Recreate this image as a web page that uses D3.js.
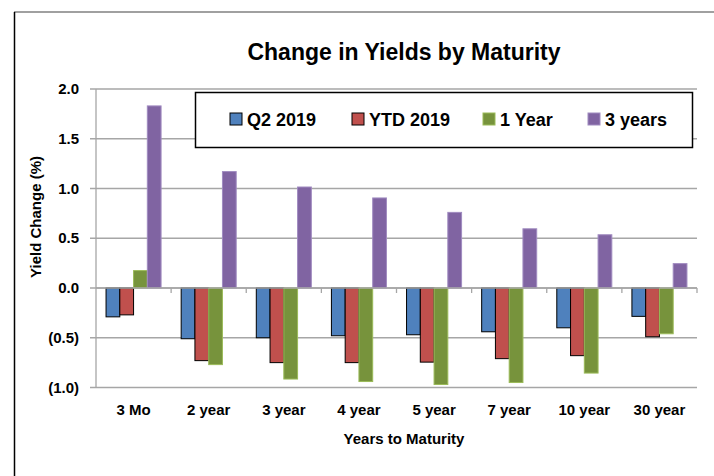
<!DOCTYPE html>
<html><head><meta charset="utf-8">
<script src="https://cdn.jsdelivr.net/npm/d3@7"></script>
<style>body{margin:0;background:#fff}svg{display:block}text{font-family:"Liberation Sans",Arial,sans-serif;font-weight:bold;fill:#000}</style>
</head><body><svg id="c" width="714" height="476"></svg>
<script>
const categories = ["3 Mo","2 year","3 year","4 year","5 year","7 year","10 year","30 year"];
const seriesNames = ["Q2 2019","YTD 2019","1 Year","3 years"];
const q2_2019  = [-0.29,-0.51,-0.50,-0.48,-0.47,-0.44,-0.40,-0.285];
const ytd_2019 = [-0.27,-0.73,-0.75,-0.75,-0.745,-0.71,-0.68,-0.49];
const oneYear  = [0.175,-0.77,-0.915,-0.94,-0.97,-0.95,-0.855,-0.46];
const threeYears = [1.83,1.17,1.015,0.905,0.76,0.595,0.535,0.245];
const yTicks = [-1.0,-0.5,0.0,0.5,1.0,1.5,2.0];
const fills = ["#4F81BD","#C0504D","#77933C","#8064A2"];
const strokes = ["#000","#000","#9BBB59","#A08BC0"];
const seriesData = [q2_2019, ytd_2019, oneYear, threeYears];

const svg = d3.select("#c");
const pL = 96, pR = 697, pT = 89, pB = 387.5;

// outer frame
svg.append("line").attr("x1",14).attr("x2",714).attr("y1",12).attr("y2",12).attr("stroke","#808080").attr("stroke-width",1.5);
svg.append("line").attr("x1",14.5).attr("x2",14.5).attr("y1",12).attr("y2",476).attr("stroke","#000").attr("stroke-width",1.5);

const x = d3.scaleBand().domain(categories).range([pL,pR]).paddingInner(0).paddingOuter(0);
const xs = d3.scaleBand().domain(seriesNames).range([0,x.bandwidth()]).paddingInner(0).paddingOuter(0.73);
const y = d3.scaleLinear().domain([-1,2]).range([pB,pT]);
const fmt = v => v < 0 ? "(" + d3.format(".1f")(-v) + ")" : d3.format(".1f")(v);

// gridlines
svg.append("g").selectAll("line").data(yTicks).join("line")
  .attr("x1",pL-6).attr("x2",pR).attr("y1",d=>y(d)).attr("y2",d=>y(d))
  .attr("stroke","#A6A6A6").attr("stroke-width",1.3);
svg.append("line").attr("x1",pL).attr("x2",pL).attr("y1",pT).attr("y2",pB).attr("stroke","#A6A6A6").attr("stroke-width",1.3);
svg.append("g").selectAll("text").data(yTicks).join("text")
  .attr("x",79).attr("y",d=>y(d)+5).attr("text-anchor","end").attr("font-size",15).text(fmt);

// bars
const flat = [];
seriesData.forEach((arr,si)=>arr.forEach((v,ci)=>flat.push({si,ci,v})));
svg.append("g").selectAll("rect").data(flat).join("rect")
  .attr("x",d=>x(categories[d.ci])+xs(seriesNames[d.si]))
  .attr("width",xs.bandwidth())
  .attr("y",d=>Math.min(y(d.v),y(0)))
  .attr("height",d=>Math.abs(y(d.v)-y(0)))
  .attr("fill",d=>fills[d.si]).attr("stroke",d=>strokes[d.si]).attr("stroke-width",1);

// x axis line and ticks
svg.append("line").attr("x1",pL).attr("x2",pR).attr("y1",y(0)).attr("y2",y(0)).attr("stroke","#A6A6A6").attr("stroke-width",1.3);
const bounds = categories.map(c=>x(c)).concat([pR]);
svg.append("g").selectAll("line").data(bounds.slice(1)).join("line")
  .attr("x1",d=>d).attr("x2",d=>d).attr("y1",y(0)).attr("y2",y(0)+5).attr("stroke","#A6A6A6").attr("stroke-width",1.3);
svg.append("g").selectAll("text").data(categories).join("text")
  .attr("x",d=>x(d)+x.bandwidth()/2).attr("y",415).attr("text-anchor","middle").attr("font-size",15).text(d=>d);

// axis titles
svg.append("text").attr("x",404).attr("y",444).attr("text-anchor","middle").attr("font-size",15).text("Years to Maturity");
svg.append("text").attr("transform","translate(41,217) rotate(-90)").attr("text-anchor","middle").attr("font-size",15).text("Yield Change (%)");

// title
svg.append("text").attr("x",404).attr("y",60).attr("text-anchor","middle").attr("font-size",23).text("Change in Yields by Maturity");

// legend
svg.append("rect").attr("x",195.5).attr("y",92.5).attr("width",497).attr("height",55).attr("fill","#fff").attr("stroke","#000").attr("stroke-width",1.5);
const legX = [230,352,483,588];
const lg = svg.append("g").selectAll("g").data(seriesNames).join("g").attr("transform",(d,i)=>`translate(${legX[i]},113)`);
lg.append("rect").attr("width",12).attr("height",12).attr("fill",(d,i)=>fills[i]).attr("stroke",(d,i)=>strokes[i]);
lg.append("text").attr("x",17).attr("y",12.5).attr("font-size",18).text(d=>d);
</script></body></html>
